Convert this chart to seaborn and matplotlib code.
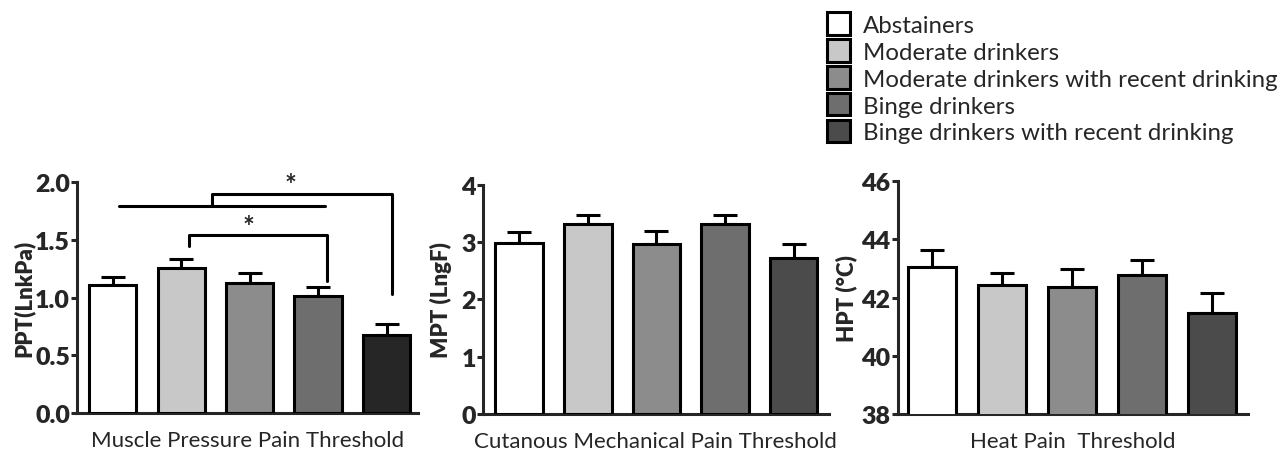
import pandas as pd
import matplotlib.pyplot as plt
import seaborn as sns
from matplotlib.patches import Patch

# -------------------------------
# Data
# -------------------------------
groups = ["Abstainers", "Moderate drinkers", "Moderate drinkers with recent drinking",
          "Binge drinkers", "Binge drinkers with recent drinking"]

ppt_mean = [1.11, 1.26, 1.13, 1.01, 0.675]
ppt_err = [0.07, 0.07, 0.08, 0.08, 0.10]

mpt_mean = [2.99, 3.32, 2.97, 3.31, 2.72]
mpt_err = [0.19, 0.16, 0.23, 0.17, 0.25]

hpt_mean = [43.05, 42.43, 42.36, 42.78, 41.47]
hpt_err = [0.58, 0.42, 0.62, 0.51, 0.69]

ppt_colors = ["#ffffff", "#c8c8c8", "#8c8c8c", "#6e6e6e", "#262626"]
other_colors = ["#ffffff", "#c8c8c8", "#8c8c8c", "#6e6e6e", "#4b4b4b"]

# significance brackets on the PPT panel (x in bar index units, y in data units)
sig_a_x = [0.1, 3.1]
sig_a_y = 1.79
sig_b_x = [1.45, 1.45, 4.08, 4.08]
sig_b_y = [1.79, 1.90, 1.90, 1.03]
sig_c_x = [1.12, 1.12, 3.13, 3.13]
sig_c_y = [1.45, 1.54, 1.54, 1.14]
stars = [(2.6, 1.86), (1.98, 1.50)]

# -------------------------------
# Style
# -------------------------------
sns.set_style("ticks")
plt.rcParams["font.family"] = ["Lato", "DejaVu Sans"]
LW = 2.2

fig = plt.figure(figsize=(12.84, 4.52), dpi=100)

panels = [
    dict(mean=ppt_mean, err=ppt_err, colors=ppt_colors, ylabel="PPT(LnkPa)",
         xlabel="Muscle Pressure Pain Threshold", ylim=(0, 2.0), yticks=[0.0, 0.5, 1.0, 1.5, 2.0],
         fmt="{:.1f}", rect=[0.060, 0.084, 0.2656, 0.511], xlim=(-0.52, 4.46), ylx=-0.125),
    dict(mean=mpt_mean, err=mpt_err, colors=other_colors, ylabel="MPT (LngF)",
         xlabel="Cutanous Mechanical Pain Threshold", ylim=(0, 4), yticks=[0, 1, 2, 3, 4],
         fmt="{:d}", rect=[0.376, 0.082, 0.2695, 0.507], xlim=(-0.53, 4.51), ylx=-0.09),
    dict(mean=hpt_mean, err=hpt_err, colors=other_colors, ylabel="HPT (°C)",
         xlabel="Heat Pain  Threshold", ylim=(38, 46), yticks=[38, 40, 42, 44, 46],
         fmt="{:d}", rect=[0.699, 0.082, 0.2726, 0.515], xlim=(-0.49, 4.51), ylx=-0.114),
]

for p in panels:
    ax = fig.add_axes(p["rect"])
    df = pd.DataFrame({"group": groups, "mean": p["mean"]})
    sns.barplot(data=df, x="group", y="mean", hue="group", palette=p["colors"],
                order=groups, hue_order=groups, width=0.69, edgecolor="black",
                linewidth=LW, legend=False, ax=ax, zorder=3)
    ax.errorbar(range(len(groups)), p["mean"], yerr=[[0] * len(groups), p["err"]],
                fmt="none", ecolor="black", elinewidth=LW, capsize=8.3, capthick=LW, zorder=2)
    ax.set_ylim(*p["ylim"])
    ax.set_xlim(*p["xlim"])
    ax.set_yticks(p["yticks"])
    ax.set_yticklabels([p["fmt"].format(t) for t in p["yticks"]], fontsize=18, fontweight="heavy")
    ax.set_xticks([])
    ax.set_xlabel(p["xlabel"], fontsize=16, labelpad=12)
    ax.set_ylabel(p["ylabel"], fontsize=16, fontweight="heavy")
    ax.yaxis.set_label_coords(p["ylx"], 0.5)
    ax.tick_params(axis="y", length=4, width=LW, direction="out", pad=1)
    for s in ["top", "right"]:
        ax.spines[s].set_visible(False)
    for s in ["left", "bottom"]:
        ax.spines[s].set_linewidth(LW)
    ax.set_facecolor("white")
    p["ax"] = ax

# significance brackets
ax1 = panels[0]["ax"]
ax1.plot(sig_a_x, [sig_a_y, sig_a_y], color="black", lw=LW, clip_on=False, zorder=4)
ax1.plot(sig_b_x, sig_b_y, color="black", lw=LW, clip_on=False, zorder=4)
ax1.plot(sig_c_x, sig_c_y, color="black", lw=LW, clip_on=False, zorder=4)
for sx, sy in stars:
    ax1.text(sx, sy, "*", ha="center", va="bottom", fontsize=20, fontweight="bold")

# legend
handles = [Patch(facecolor=c, edgecolor="black", linewidth=LW) for c in other_colors]
fig.legend(handles, groups, loc="upper left", bbox_to_anchor=(0.632, 1.005), frameon=False,
           fontsize=17.3, handlelength=0.95, handleheight=1.05, handletextpad=0.55,
           labelspacing=0.15, borderpad=0.15)

fig.savefig("out.png", dpi=100, facecolor="white")
